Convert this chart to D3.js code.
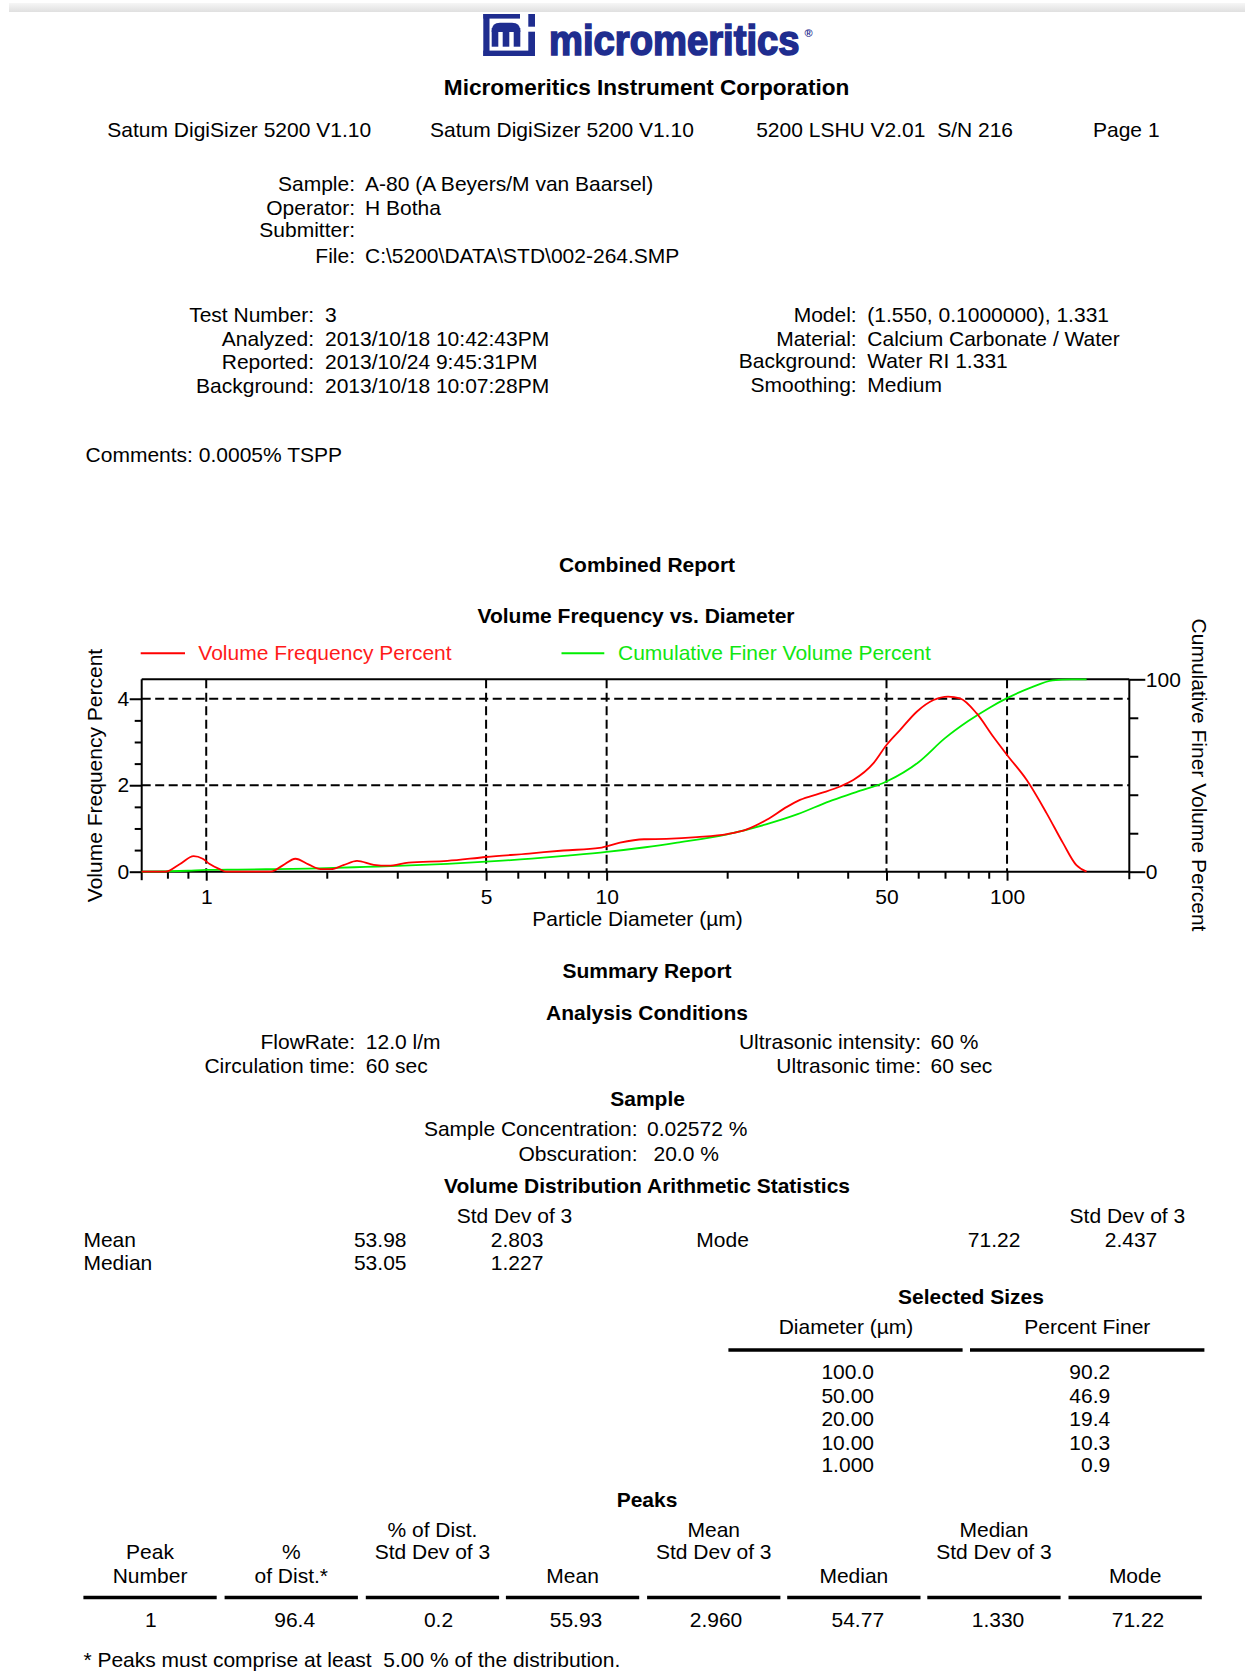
<!DOCTYPE html>
<html>
<head>
<meta charset="utf-8">
<title>Combined Report</title>
<script src="https://cdn.jsdelivr.net/npm/d3@7"></script>
<style>
  html, body { margin: 0; padding: 0; background: #fff; }
  svg { display: block; font-family: "Liberation Sans", Arial, Helvetica, sans-serif; }
  text { white-space: pre; fill: #000; }
</style>
</head>
<body>
<svg id="page" width="1245" height="1677"></svg>
<script>
// ---------- report data ----------
const headerLine = ["Satum DigiSizer 5200 V1.10", "Satum DigiSizer 5200 V1.10", "5200 LSHU V2.01  S/N 216", "Page 1"];

const sampleLabels = ["Sample:", "Operator:", "Submitter:", "File:"];
const sampleValues = ["A-80 (A Beyers/M van Baarsel)", "H Botha", "", "C:\\5200\\DATA\\STD\\002-264.SMP"];

const testLabels = ["Test Number:", "Analyzed:", "Reported:", "Background:"];
const testValues = ["3", "2013/10/18 10:42:43PM", "2013/10/24 9:45:31PM", "2013/10/18 10:07:28PM"];

const modelLabels = ["Model:", "Material:", "Background:", "Smoothing:"];
const modelValues = ["(1.550, 0.1000000), 1.331", "Calcium Carbonate / Water", "Water RI 1.331", "Medium"];

const commentText = "Comments: 0.0005% TSPP";

// Volume frequency curve: particle diameter (µm) and volume frequency (%)
const freqDiameter = [0.69, 0.79, 0.86, 0.93, 0.98, 1.02, 1.08, 1.12, 1.45, 1.55, 1.67, 1.8, 1.93, 2.05, 2.2, 2.38, 2.62, 2.85,
  3.2, 4.0, 5.0, 6.4, 7.8, 9.6, 10.8, 12.4, 14.1, 16.8, 20, 22.4, 25.1, 28.2, 30.4, 34.1, 38.3, 41.3, 46.4, 50, 54.1,
  59.5, 65.5, 71.22, 76.3, 84, 92.4, 100, 112, 125.6, 138, 149, 158];
const freqPercent = [0, 0, 0.18, 0.36, 0.30, 0.18, 0.06, 0.0, 0.0, 0.14, 0.30, 0.17, 0.06, 0.06, 0.15, 0.25, 0.16, 0.14,
  0.21, 0.25, 0.34, 0.42, 0.49, 0.55, 0.67, 0.75, 0.76, 0.80, 0.87, 0.98, 1.20, 1.50, 1.66, 1.81, 1.97, 2.12, 2.51, 2.93, 3.28,
  3.70, 3.97, 4.05, 4.01, 3.66, 3.12, 2.70, 2.12, 1.35, 0.66, 0.15, 0.0];

// Cumulative finer curve: particle diameter (µm) and cumulative volume finer (%)
const cumDiameter = [0.69, 0.8, 0.9, 1.0, 1.2, 1.5, 1.8, 2.0, 2.5, 3.0, 4.0, 5.0, 6.5, 8.0, 10, 12.5, 15, 20, 25, 30, 36, 42,
  50, 60, 70, 80, 90, 100, 115, 130, 145, 158];
const cumPercent = [0.0, 0.2, 0.5, 0.9, 1.1, 1.35, 1.6, 1.85, 2.5, 3.0, 4.1, 5.2, 6.8, 8.4, 10.3, 12.7, 15.1, 19.4, 24.6, 29.9,
  36.6, 41.4, 46.9, 56.8, 69.4, 78.3, 85.0, 90.2, 95.8, 99.4, 100, 100];

// Axis ticks
const xMajorTicks = [1, 5, 10, 50, 100];
const xMinorTicks = [0.8, 0.9, 2, 3, 4, 6, 7, 8, 9, 20, 30, 40, 60, 70, 80, 90];
const yLeftMajor = [0, 2, 4];
const yLeftMinor = [0.5, 1, 1.5, 2.5, 3, 3.5];
const yRightMajor = [0, 100];
const yRightMinor = [20, 40, 60, 80];
const gridX = [1, 5, 10, 50, 100];
const gridY = [2, 4];

const seriesNames = ["Volume Frequency Percent", "Cumulative Finer Volume Percent"];

// Summary report
const condLeftLabels = ["FlowRate:", "Circulation time:"];
const condLeftValues = ["12.0 l/m", "60 sec"];
const condRightLabels = ["Ultrasonic intensity:", "Ultrasonic time:"];
const condRightValues = ["60 %", "60 sec"];

const sampleStatLabels = ["Sample Concentration:", "Obscuration:"];
const sampleStatValues = ["0.02572 %", "20.0 %"];

const statNames = ["Mean", "Median"];
const statValues = ["53.98", "53.05"];
const statStd = ["2.803", "1.227"];
const modeValue = "71.22";
const modeStd = "2.437";

const selDiameter = ["100.0", "50.00", "20.00", "10.00", "1.000"];
const selFiner = ["90.2", "46.9", "19.4", "10.3", "0.9"];

const peakHead1 = ["", "", "% of Dist.", "", "Mean", "", "Median", ""];
const peakHead2 = ["Peak", "%", "Std Dev of 3", "", "Std Dev of 3", "", "Std Dev of 3", ""];
const peakHead3 = ["Number", "of Dist.*", "", "Mean", "", "Median", "", "Mode"];
const peakRow = ["1", "96.4", "0.2", "55.93", "2.960", "54.77", "1.330", "71.22"];
const footnote = "* Peaks must comprise at least  5.00 % of the distribution.";

// ---------- drawing ----------
const svg = d3.select("#page");
const FS = 21;

function txt(g, s, x, y, opts = {}) {
  return g.append("text")
    .attr("x", x).attr("y", y)
    .attr("font-size", opts.size || FS)
    .attr("font-weight", opts.bold ? "bold" : null)
    .attr("text-anchor", opts.anchor || "start")
    .style("fill", opts.fill || "#000")
    .text(s);
}

// page edge shading
const defs = svg.append("defs");
const grad = defs.append("linearGradient").attr("id", "edge").attr("x1", 0).attr("y1", 0).attr("x2", 0).attr("y2", 1);
grad.append("stop").attr("offset", 0).attr("stop-color", "#f6f6f6");
grad.append("stop").attr("offset", 1).attr("stop-color", "#e0e0e0");
svg.append("rect").attr("x", 9).attr("y", 3).attr("width", 1236).attr("height", 9).attr("fill", "url(#edge)");

// company logo
const logo = svg.append("g").attr("fill", "#1f2d8f");
[[483.3, 14, 6.2, 42], [483.3, 14, 36.7, 4.6], [483.3, 50.6, 51.7, 5.4], [528.3, 14, 6.7, 12.7], [528.3, 31.7, 6.7, 24.3],
 [491.7, 28, 6.6, 18.7], [502.7, 28, 6.6, 18.7], [513.7, 28, 6.6, 18.7]]
  .forEach(r => logo.append("rect").attr("x", r[0]).attr("y", r[1]).attr("width", r[2]).attr("height", r[3]));
logo.append("path").attr("d", "M491.7,31 Q491.7,22.7 500,22.7 L512,22.7 Q520.3,22.7 520.3,31 L520.3,32 L491.7,32 Z");
logo.append("text").attr("x", 0).attr("y", 0).attr("font-size", 38.2).attr("font-weight", "bold")
  .attr("transform", "translate(549,55) scale(1,1.13)")
  .style("fill", "#1f2d8f").style("stroke", "#1f2d8f").style("stroke-width", 1.5)
  .text("micromeritics");
logo.append("text").attr("x", 804.5).attr("y", 37).attr("font-size", 11).attr("font-weight", "bold")
  .style("fill", "#1f2d8f").text("®");

const head = svg.append("g");
txt(head, "Micromeritics Instrument Corporation", 646.6, 95, { bold: true, anchor: "middle", size: 22.6 });
[107.3, 430, 756.2, 1093].forEach((x, i) => txt(head, headerLine[i], x, 136.7));

// sample identification block
[190.7, 215, 237.3, 262.7].forEach((y, i) => {
  txt(head, sampleLabels[i], 355, y, { anchor: "end" });
  txt(head, sampleValues[i], 365, y);
});
[321.7, 346, 368.7, 392.7].forEach((y, i) => {
  txt(head, testLabels[i], 314, y, { anchor: "end" });
  txt(head, testValues[i], 325, y);
});
[321.7, 346, 368.3, 391.7].forEach((y, i) => {
  txt(head, modelLabels[i], 856.7, y, { anchor: "end" });
  txt(head, modelValues[i], 867.3, y);
});
txt(head, commentText, 85.6, 462);

// ---------- chart ----------
const plot = { left: 141.7, right: 1129.3, top: 679.3, bottom: 871.7 };
const x = d3.scaleLog().domain([0.69, 202]).range([plot.left, plot.right]);
const yL = d3.scaleLinear().domain([0, 4.45]).range([plot.bottom, plot.top]);
const yR = d3.scaleLinear().domain([0, 100]).range([plot.bottom, plot.top]);

const chart = svg.append("g");
txt(chart, "Combined Report", 647, 572, { bold: true, anchor: "middle" });
txt(chart, "Volume Frequency vs. Diameter", 636, 623, { bold: true, anchor: "middle" });

// legend
const legendColors = ["#ff0000", "#00ee00"];
const legendTextColors = ["#ff1a1a", "#11e611"];
[[140.7, 185, 198.3], [561.5, 604.3, 618]].forEach((p, i) => {
  chart.append("line").attr("x1", p[0]).attr("x2", p[1]).attr("y1", 653.3).attr("y2", 653.3)
    .attr("stroke", legendColors[i]).attr("stroke-width", 2);
  txt(chart, seriesNames[i], p[2], 660, { fill: legendTextColors[i] });
});

// dashed grid
const grid = chart.append("g").attr("stroke", "#000").attr("stroke-width", 2).attr("stroke-dasharray", "9,4.5");
gridX.forEach(v => grid.append("line").attr("x1", x(v)).attr("x2", x(v)).attr("y1", plot.top).attr("y2", plot.bottom));
gridY.forEach(v => grid.append("line").attr("x1", plot.left).attr("x2", plot.right).attr("y1", yL(v)).attr("y2", yL(v)));

function styleAxis(g) {
  g.select(".domain").remove();
  g.selectAll(".tick line").attr("stroke", "#000").attr("stroke-width", 2);
  g.selectAll(".tick text").attr("font-size", FS).attr("font-family", "Liberation Sans, Arial, sans-serif").style("fill", "#000");
}

// bottom axis
chart.append("g").attr("transform", `translate(0,${plot.bottom})`)
  .call(d3.axisBottom(x).tickValues(xMinorTicks).tickSize(7).tickFormat(""))
  .call(styleAxis);
chart.append("g").attr("transform", `translate(0,${plot.bottom})`)
  .call(d3.axisBottom(x).tickValues(xMajorTicks).tickSize(9).tickFormat(d3.format("d")))
  .call(styleAxis)
  .call(g => g.selectAll(".tick text").attr("y", 32.3).attr("dy", 0));

// left axis
chart.append("g").attr("transform", `translate(${plot.left},0)`)
  .call(d3.axisLeft(yL).tickValues(yLeftMinor).tickSize(7).tickFormat(""))
  .call(styleAxis);
chart.append("g").attr("transform", `translate(${plot.left},0)`)
  .call(d3.axisLeft(yL).tickValues(yLeftMajor).tickSize(12).tickPadding(0.5).tickFormat(d3.format("d")))
  .call(styleAxis);

// right axis
chart.append("g").attr("transform", `translate(${plot.right},0)`)
  .call(d3.axisRight(yR).tickValues(yRightMinor).tickSize(9).tickFormat(""))
  .call(styleAxis);
chart.append("g").attr("transform", `translate(${plot.right},0)`)
  .call(d3.axisRight(yR).tickValues(yRightMajor).tickSize(16).tickPadding(0.5).tickFormat(d3.format("d")))
  .call(styleAxis);

// frame
const frame = chart.append("g").attr("stroke", "#000").attr("stroke-width", 2);
frame.append("line").attr("x1", plot.left).attr("x2", plot.right).attr("y1", plot.top).attr("y2", plot.top);
frame.append("line").attr("x1", plot.left).attr("x2", plot.right).attr("y1", plot.bottom).attr("y2", plot.bottom);
frame.append("line").attr("x1", plot.left).attr("x2", plot.left).attr("y1", plot.top).attr("y2", plot.bottom + 8.5);
frame.append("line").attr("x1", plot.right).attr("x2", plot.right).attr("y1", plot.top).attr("y2", plot.bottom + 7.5);

// axis titles
txt(chart, "Particle Diameter (µm)", 637.5, 926, { anchor: "middle" });
txt(chart, "Volume Frequency Percent", 0, 0, { anchor: "middle" }).attr("transform", "translate(102,775.5) rotate(-90)");
txt(chart, "Cumulative Finer Volume Percent", 0, 0, { anchor: "middle" }).attr("transform", "translate(1191.5,775) rotate(90)");

// curves
const cumPts = cumDiameter.map((d, i) => [d, cumPercent[i]]);
const freqPts = freqDiameter.map((d, i) => [d, freqPercent[i]]);
chart.append("path").datum(cumPts)
  .attr("d", d3.line().x(d => x(d[0])).y(d => yR(d[1])).curve(d3.curveMonotoneX))
  .attr("fill", "none").attr("stroke", "#00ee00").attr("stroke-width", 1.8);
chart.append("path").datum(freqPts)
  .attr("d", d3.line().x(d => x(d[0])).y(d => yL(d[1])).curve(d3.curveMonotoneX))
  .attr("fill", "none").attr("stroke", "#ff0000").attr("stroke-width", 1.8);

// ---------- summary ----------
const sum = svg.append("g");
txt(sum, "Summary Report", 647, 978, { bold: true, anchor: "middle" });
txt(sum, "Analysis Conditions", 647, 1019.5, { bold: true, anchor: "middle" });
[1049, 1072.8].forEach((y, i) => {
  txt(sum, condLeftLabels[i], 355, y, { anchor: "end" });
  txt(sum, condLeftValues[i], 365.8, y);
  txt(sum, condRightLabels[i], 921, y, { anchor: "end" });
  txt(sum, condRightValues[i], 930.5, y);
});
txt(sum, "Sample", 647.6, 1106, { bold: true, anchor: "middle" });
[[1136, 647], [1160.5, 653.5]].forEach((p, i) => {
  txt(sum, sampleStatLabels[i], 637.5, p[0], { anchor: "end" });
  txt(sum, sampleStatValues[i], p[1], p[0]);
});
txt(sum, "Volume Distribution Arithmetic Statistics", 647, 1192.7, { bold: true, anchor: "middle" });
txt(sum, "Std Dev of 3", 456.7, 1222.6);
txt(sum, "Std Dev of 3", 1069.6, 1222.6);
[1247, 1269.6].forEach((y, i) => {
  txt(sum, statNames[i], 83.4, y);
  txt(sum, statValues[i], 406.5, y, { anchor: "end" });
  txt(sum, statStd[i], 543.4, y, { anchor: "end" });
});
txt(sum, "Mode", 696.3, 1247);
txt(sum, modeValue, 1020.4, 1247, { anchor: "end" });
txt(sum, modeStd, 1157.3, 1247, { anchor: "end" });

// selected sizes
txt(sum, "Selected Sizes", 971, 1304, { bold: true, anchor: "middle" });
txt(sum, "Diameter (µm)", 846, 1334, { anchor: "middle" });
txt(sum, "Percent Finer", 1087.3, 1334, { anchor: "middle" });
[[728.4, 962.6], [970, 1204.4]].forEach(p =>
  sum.append("line").attr("x1", p[0]).attr("x2", p[1]).attr("y1", 1350).attr("y2", 1350)
    .attr("stroke", "#000").attr("stroke-width", 3.5));
[1378.5, 1403, 1425.5, 1450, 1472].forEach((y, i) => {
  txt(sum, selDiameter[i], 874, y, { anchor: "end" });
  txt(sum, selFiner[i], 1110.2, y, { anchor: "end" });
});

// peaks
txt(sum, "Peaks", 647, 1506.5, { bold: true, anchor: "middle" });
const colStart = [83.4, 224.6, 365.8, 505.9, 647.1, 787.2, 927.3, 1068.5];
const colW = 133.3;
const dataCenters = [150.8, 294.7, 438.5, 576, 716, 857.8, 998, 1138];
colStart.forEach((cx, i) => {
  const c = cx + colW / 2;
  if (peakHead1[i]) txt(sum, peakHead1[i], c, 1536.5, { anchor: "middle" });
  if (peakHead2[i]) txt(sum, peakHead2[i], c, 1558.5, { anchor: "middle" });
  if (peakHead3[i]) txt(sum, peakHead3[i], c, 1583, { anchor: "middle" });
  sum.append("line").attr("x1", cx).attr("x2", cx + colW).attr("y1", 1597.5).attr("y2", 1597.5)
    .attr("stroke", "#000").attr("stroke-width", 3.5);
  txt(sum, peakRow[i], dataCenters[i], 1627, { anchor: "middle" });
});
txt(sum, footnote, 83.4, 1667);
</script>
</body>
</html>
